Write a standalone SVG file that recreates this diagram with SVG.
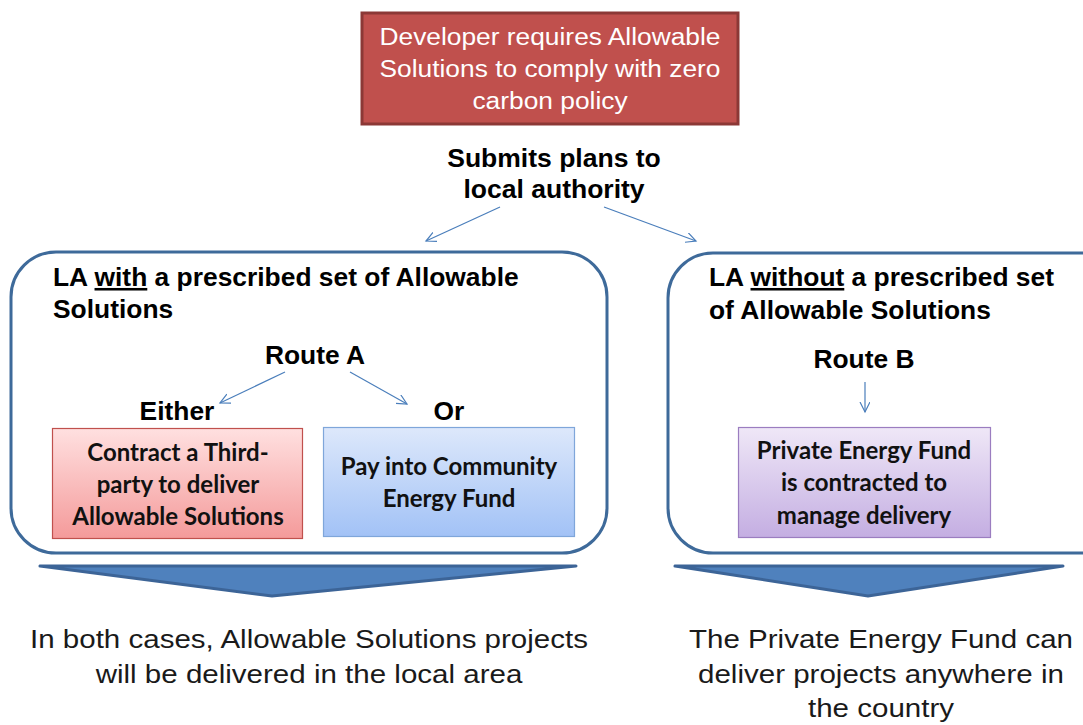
<svg xmlns="http://www.w3.org/2000/svg" width="1083" height="725" viewBox="0 0 1083 725">
<style>
.t{font-family:"Liberation Sans",Arial,sans-serif;}
.b{font-family:"Liberation Sans",Arial,sans-serif;font-weight:bold;font-size:25.5px;fill:#000;}
.c{font-family:Lato,"Open Sans",sans-serif;font-weight:bold;font-size:24px;fill:#111;text-anchor:middle;}
.conn{stroke:#4A7EBB;stroke-width:1.2;fill:none;marker-end:url(#ah);}
.la{fill:#fff;stroke:#3E6A9A;stroke-width:3;}
.chev{fill:#4F81BD;stroke:#3C6497;stroke-width:3;stroke-linejoin:round;}
.bt{font-family:"Liberation Sans",Arial,sans-serif;font-size:26px;fill:#1a1a1a;text-anchor:middle;}
</style>
<defs>
<marker id="ah" markerWidth="14" markerHeight="14" refX="10" refY="5" orient="auto" markerUnits="userSpaceOnUse">
<path d="M0,0 L10,5 L0,10" fill="none" stroke="#4A7EBB" stroke-width="1.2"/>
</marker>
<linearGradient id="gr" x1="0" y1="0" x2="0" y2="1"><stop offset="0" stop-color="#FFE0E0"/><stop offset="1" stop-color="#F49A9A"/></linearGradient>
<linearGradient id="gb" x1="0" y1="0" x2="0" y2="1"><stop offset="0" stop-color="#DDE8FB"/><stop offset="1" stop-color="#A2C2F6"/></linearGradient>
<linearGradient id="gp" x1="0" y1="0" x2="0" y2="1"><stop offset="0" stop-color="#EFE7F7"/><stop offset="1" stop-color="#C4AEE2"/></linearGradient>
</defs>

<g id="developer">
<rect x="362" y="13" width="376" height="111" fill="#C0504D" stroke="#8C3836" stroke-width="3"/>
<text class="t" font-size="23" fill="#fff" text-anchor="middle" transform="translate(550,0) scale(1.145,1)"><tspan x="0" y="45">Developer requires Allowable</tspan><tspan x="0" y="77">Solutions to comply with zero</tspan><tspan x="0" y="109">carbon policy</tspan></text>
</g>

<g id="submits">
<text class="b" text-anchor="middle" transform="translate(554,0) scale(1.04,1)"><tspan x="0" y="167">Submits plans to</tspan><tspan x="0" y="198">local authority</tspan></text>
</g>

<g id="la-with">
<rect class="la" x="11" y="252" width="596" height="301" rx="45" ry="45"/>
<text class="b" transform="translate(53,0) scale(1.035,1)"><tspan x="0" y="286">LA <tspan text-decoration="underline">with</tspan> a prescribed set of Allowable</tspan><tspan x="0" y="318">Solutions</tspan></text>
<text class="b" text-anchor="middle" transform="translate(315,0) scale(1.035,1)" x="0" y="364">Route A</text>
<text class="b" text-anchor="middle" transform="translate(177,0) scale(1.035,1)" x="0" y="420">Either</text>
<text class="b" text-anchor="middle" transform="translate(449,0) scale(1.035,1)" x="0" y="420">Or</text>
</g>

<g id="third-party">
<rect x="52.5" y="428.5" width="250" height="110" fill="url(#gr)" stroke="#C0504D" stroke-width="1.2"/>
<text class="c"><tspan x="178" y="461">Contract a Third-</tspan><tspan x="178" y="493">party to deliver</tspan><tspan x="178" y="525">Allowable Solutions</tspan></text>
</g>

<g id="community-fund">
<rect x="323.5" y="427.5" width="251" height="109" fill="url(#gb)" stroke="#7FA6DA" stroke-width="1.2"/>
<text class="c"><tspan x="449" y="475">Pay into Community</tspan><tspan x="449" y="507">Energy Fund</tspan></text>
</g>

<g id="la-without">
<rect class="la" x="668" y="253" width="460" height="300" rx="45" ry="45"/>
<text class="b" transform="translate(709,0) scale(1.035,1)"><tspan x="0" y="286">LA <tspan text-decoration="underline">without</tspan> a prescribed set</tspan><tspan x="0" y="319">of Allowable Solutions</tspan></text>
<text class="b" text-anchor="middle" transform="translate(864,0) scale(1.035,1)" x="0" y="368">Route B</text>
</g>

<g id="private-fund">
<rect x="738.5" y="427.5" width="252" height="110" fill="url(#gp)" stroke="#9B7DC0" stroke-width="1.2"/>
<text class="c"><tspan x="864" y="459">Private Energy Fund</tspan><tspan x="864" y="491">is contracted to</tspan><tspan x="864" y="524">manage delivery</tspan></text>
</g>

<g id="connectors">
<line class="conn" x1="500" y1="207" x2="426" y2="241"/>
<line class="conn" x1="604" y1="207" x2="696" y2="241"/>
<line class="conn" x1="285" y1="372" x2="220" y2="403"/>
<line class="conn" x1="350" y1="372" x2="407" y2="404"/>
<line class="conn" x1="865" y1="382" x2="865" y2="412"/>
</g>

<g id="chevron-left">
<polygon class="chev" points="40,566 576,566 272,596"/>
</g>
<g id="chevron-right">
<polygon class="chev" points="675,566 1063,566 868,596"/>
</g>

<g id="summary-left">
<text class="bt" transform="translate(309,0) scale(1.136,1)"><tspan x="0" y="648">In both cases, Allowable Solutions projects</tspan><tspan x="0" y="683">will be delivered in the local area</tspan></text>
</g>
<g id="summary-right">
<text class="bt" transform="translate(881,0) scale(1.136,1)"><tspan x="0" y="648">The Private Energy Fund can</tspan><tspan x="0" y="683">deliver projects anywhere in</tspan><tspan x="0" y="717">the country</tspan></text>
</g>
</svg>
